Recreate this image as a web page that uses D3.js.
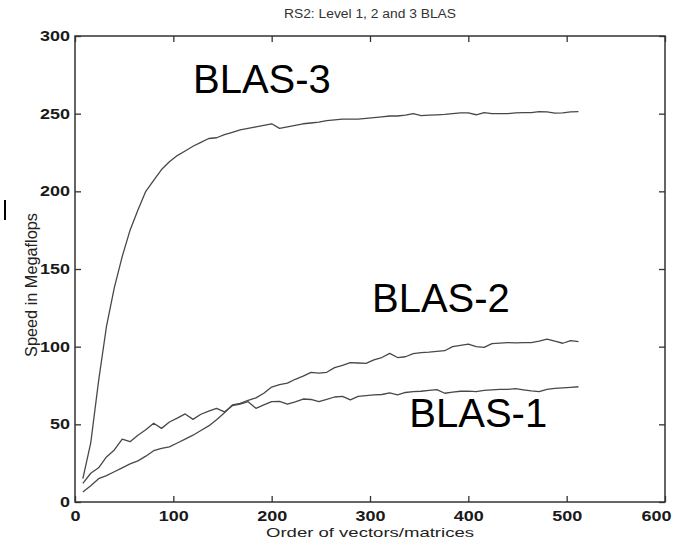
<!DOCTYPE html>
<html>
<head>
<meta charset="utf-8">
<script src="https://d3js.org/d3.v7.min.js"></script>
<style>
  html, body { margin: 0; padding: 0; background: #fff; }
  svg { display: block; }
</style>
</head>
<body>
<svg id="chart" width="679" height="542"></svg>
<script>
// ---------- DATA ----------
const orders = d3.range(8, 513, 8); // 8,16,...,512
const blas3 = [15, 38, 78, 113, 138, 158, 175, 188, 200, 207, 214, 219, 223, 226, 229, 231.5,
  234, 234.5, 236.5, 238, 239.5, 240.5, 241.5, 242.5, 243.5, 240.5, 241.5, 242.5, 243.5, 244, 244.5, 245.5,
  246, 246.5, 246.5, 246.5, 247, 247.5, 248, 248.5, 248.5, 249, 250, 248.8, 249, 249.2, 249.5, 250,
  250.5, 250.5, 249.3, 250.7, 250, 250, 250, 250.5, 250.7, 250.7, 251.3, 251.2, 250.3, 250.5, 251.2, 251.3];
const blas2 = [6.5, 10.5, 15, 17, 19.5, 22, 24.5, 26.5, 29.5, 33, 34.5, 35.5, 38, 40.5, 43, 46,
  49, 53, 57.5, 62.5, 63.5, 65.5, 67, 70, 74, 75.5, 76.5, 79, 81, 83.5, 83, 83.5,
  86.5, 88, 89.7, 89.5, 89.3, 91.5, 93, 95.7, 93, 93.5, 95.5, 96.2, 96.5, 97, 97.4, 100,
  100.8, 101.7, 100, 99.5, 102, 102.3, 102.6, 102.4, 102.6, 102.6, 103.5, 104.8, 103.5, 102.2, 103.9, 103.2];
const blas1 = [12, 18.5, 22, 29, 33.5, 40.5, 38.8, 43, 46.5, 50.7, 47.4, 51.5, 54, 56.7, 53.2, 56.5,
  58.5, 60.3, 58, 62, 63, 64.6, 60.3, 62.5, 64.6, 64.8, 63, 64.5, 66.3, 66, 64.6, 66,
  67.6, 68, 65.7, 68, 68.5, 68.9, 69.2, 70.2, 69, 70.5, 71, 71.3, 71.8, 72.3, 70, 70.8,
  71.3, 71.4, 71, 71.8, 72.2, 72.5, 72.5, 73, 72.2, 71.5, 71, 72.5, 73.2, 73.5, 73.8, 74.2];
const seriesNames = ["BLAS-3", "BLAS-2", "BLAS-1"];
const xTicks = [0, 100, 200, 300, 400, 500, 600];
const yTicks = [0, 50, 100, 150, 200, 250, 300];
const titleText = "RS2: Level 1, 2 and 3 BLAS";
const xLabel = "Order of vectors/matrices";
const yLabel = "Speed in Megaflops";
// label anchor positions in data units
const labelPos = [[120, 263], [302, 122], [340, 48]];

// ---------- LAYOUT ----------
const svg = d3.select("#chart");
const mLeft = 75, mRight = 665, mTop = 36, mBottom = 502;
const x = d3.scaleLinear().domain([0, 600]).range([mLeft, mRight]);
const y = d3.scaleLinear().domain([0, 300]).range([mBottom, mTop]);
const axisColor = "#333";
const lineColor = "#484848";
const tickFont = "Liberation Sans, Arial, Helvetica, sans-serif";

// box
svg.append("rect")
  .attr("x", mLeft).attr("y", mTop)
  .attr("width", mRight - mLeft).attr("height", mBottom - mTop)
  .attr("fill", "none").attr("stroke", axisColor).attr("stroke-width", 1.5);

// axes with inward ticks
const gx = svg.append("g").attr("transform", `translate(0,${mBottom})`)
  .call(d3.axisBottom(x).tickValues(xTicks).tickSizeInner(-6).tickSizeOuter(0).tickPadding(9));
const gxTop = svg.append("g").attr("transform", `translate(0,${mTop})`)
  .call(d3.axisTop(x).tickValues(xTicks).tickSizeInner(-6).tickSizeOuter(0).tickFormat(""));
const gy = svg.append("g").attr("transform", `translate(${mLeft},0)`)
  .call(d3.axisLeft(y).tickValues(yTicks).tickSizeInner(-6).tickSizeOuter(0).tickPadding(5));
const gyR = svg.append("g").attr("transform", `translate(${mRight},0)`)
  .call(d3.axisRight(y).tickValues(yTicks).tickSizeInner(-6).tickSizeOuter(0).tickFormat(""));

[gx, gxTop, gy, gyR].forEach(g => {
  g.select(".domain").remove();
  g.selectAll(".tick line").attr("stroke", axisColor).attr("stroke-width", 1.3);
  g.selectAll(".tick text")
    .attr("fill", "#1a1a1a")
    .style("font-family", tickFont)
    .style("font-size", "14px")
    .style("font-weight", "bold")
    .attr("textLength", function () { return this.textContent.length * 10; })
    .attr("lengthAdjust", "spacingAndGlyphs");
});
// last x tick label kept inside the picture, as in the source
gx.selectAll(".tick text").filter(d => d === xTicks[xTicks.length - 1])
  .attr("text-anchor", "end").attr("x", 6);

// lines
const line = d3.line().x((d, i) => x(orders[i])).y(d => y(d));
[blas3, blas2, blas1].forEach(s => {
  svg.append("path").datum(s)
    .attr("d", line)
    .attr("fill", "none")
    .attr("stroke", lineColor)
    .attr("stroke-width", 1.3)
    .attr("stroke-linejoin", "round");
});

// series labels
seriesNames.forEach((name, i) => {
  svg.append("text")
    .attr("x", x(labelPos[i][0]))
    .attr("y", y(labelPos[i][1]))
    .attr("fill", "#000")
    .style("font-family", "Liberation Sans, Arial, Helvetica, sans-serif")
    .style("font-size", "40px")
    .text(name);
});

// title
svg.append("text")
  .attr("x", (mLeft + mRight) / 2).attr("y", 18)
  .attr("text-anchor", "middle")
  .attr("fill", "#333")
  .attr("textLength", 172)
  .attr("lengthAdjust", "spacingAndGlyphs")
  .style("font-family", tickFont)
  .style("font-size", "12px")
  .text(titleText);

// axis labels
svg.append("text")
  .attr("x", (mLeft + mRight) / 2).attr("y", 537)
  .attr("text-anchor", "middle")
  .attr("fill", "#222")
  .attr("textLength", 208)
  .attr("lengthAdjust", "spacingAndGlyphs")
  .style("font-family", tickFont)
  .style("font-size", "13px")
  .text(xLabel);

svg.append("text")
  .attr("transform", `translate(37,285) scale(1.2,1) rotate(-90)`)
  .attr("text-anchor", "middle")
  .attr("fill", "#222")
  .attr("textLength", 144)
  .attr("lengthAdjust", "spacingAndGlyphs")
  .style("font-family", tickFont)
  .style("font-size", "14px")
  .text(yLabel);

// small vertical mark at far left (artifact in source)
svg.append("line")
  .attr("x1", 5).attr("x2", 5).attr("y1", 200).attr("y2", 220)
  .attr("stroke", "#000").attr("stroke-width", 2);
</script>
</body>
</html>
